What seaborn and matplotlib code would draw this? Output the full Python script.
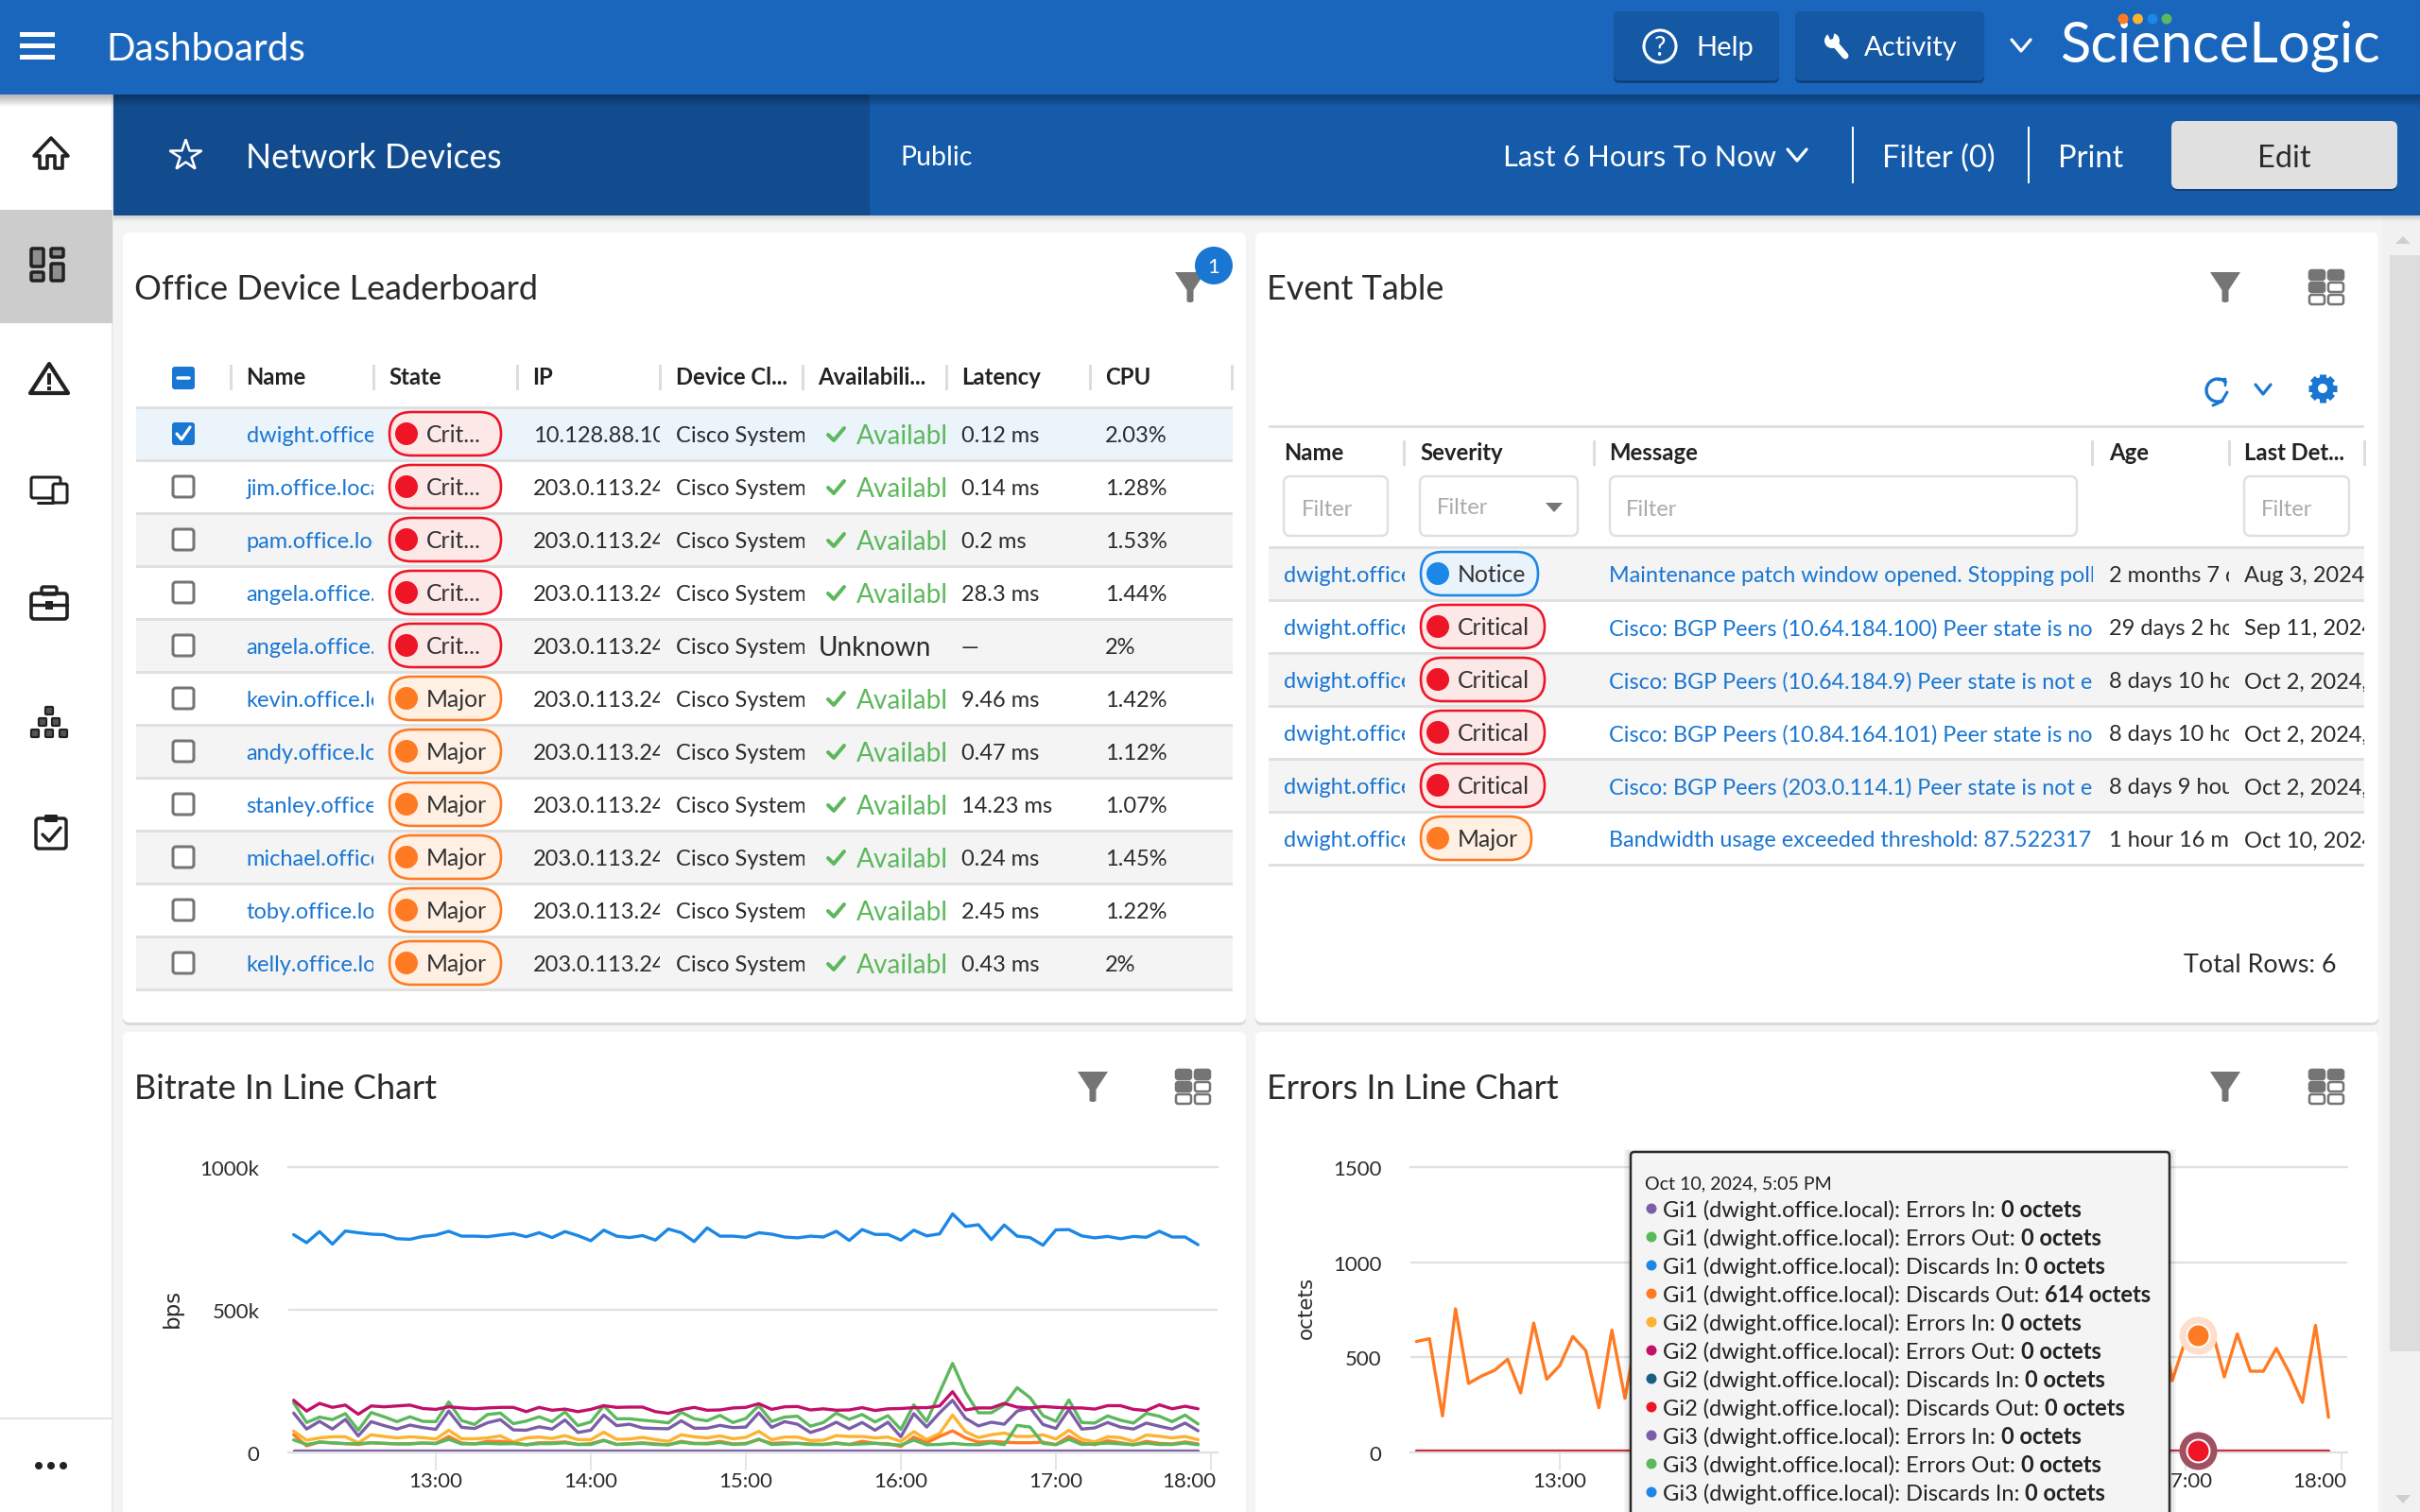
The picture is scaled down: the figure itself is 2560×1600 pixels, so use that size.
import numpy as np
import pandas as pd
import seaborn as sns
import matplotlib
matplotlib.use("Agg")
import matplotlib.pyplot as plt
from matplotlib.patches import FancyBboxPatch, Rectangle, Circle, Polygon, Arc
from matplotlib.transforms import Affine2D

# ---------- data ----------
TIMES = pd.date_range("2024-10-10 12:05", periods=71, freq="5min")
X_TICKS = ["13:00", "14:00", "15:00", "16:00", "17:00", "18:00"]

bit_blue = [763,735,774,730,776,770,765,763,749,747,757,762,775,758,758,756,762,767,756,770,753,774,760,742,779,758,753,760,744,783,770,739,787,758,758,
            754,770,765,755,752,758,755,775,743,781,764,764,744,779,759,766,836,792,798,746,797,758,753,726,780,781,759,752,757,749,757,754,775,755,755,728]
bit_magenta = [183,145,172,158,166,134,163,160,163,166,154,151,160,156,153,156,158,158,143,158,148,152,143,151,164,158,159,159,143,137,150,158,148,149,156,
               158,171,151,160,161,149,153,148,149,157,147,153,154,157,157,163,213,149,156,156,172,159,156,161,158,156,156,152,164,164,151,147,167,153,162,153]
bit_green = [174,105,124,115,136,78,140,125,108,125,109,108,177,112,98,133,138,101,110,125,108,142,94,107,164,118,118,113,109,104,141,118,111,130,105,
             119,164,109,124,127,92,105,138,116,133,107,129,81,167,109,211,312,211,139,139,167,227,192,129,109,184,105,103,128,113,103,137,127,108,131,100]
bit_purple = [138,82,109,82,116,58,108,94,82,96,87,81,145,88,84,104,115,79,78,90,82,114,70,78,131,94,99,86,84,83,111,85,85,95,87,
              89,139,88,108,99,70,84,106,83,105,78,106,55,136,89,139,183,120,93,106,99,145,156,98,84,150,82,86,105,89,82,103,92,82,103,76]
bit_amber = [75,43,51,55,55,34,62,56,51,55,52,47,78,48,48,51,58,37,51,54,49,59,45,45,71,46,47,53,45,39,62,55,51,58,48,
             53,74,45,54,54,42,43,59,56,56,51,54,39,73,45,67,131,73,52,62,68,56,56,62,47,78,47,37,55,52,39,61,57,51,56,45]
bit_orange = [62,23,37,33,31,28,34,32,30,31,33,32,56,33,30,39,39,34,27,34,34,37,28,31,43,28,31,34,30,27,39,32,32,39,30,
              32,45,32,34,32,30,28,34,28,39,32,31,21,54,34,56,76,51,36,39,36,34,34,36,28,56,34,27,41,34,27,39,32,30,37,30]
bit_green_low = [44,28,36,34,31,31,34,32,30,30,33,31,46,30,30,32,30,31,27,31,31,34,28,28,42,28,30,32,28,27,36,31,30,35,28,
                 30,47,28,30,32,28,28,32,28,30,32,28,26,43,27,28,32,28,27,34,27,95,89,32,27,46,28,30,33,30,27,33,28,28,33,27]
bit_flat = [6] * 71

err_orange_first = [583,598,192,755,363,402,432,490,313,680,385,457,610,535,235,643,285,657]
err_orange_last = [800,377,585,614,660,397,623,427,427,547,418,263,668,185]
err_red = [10] * 71
HOVER_ORANGE = 614
HOVER_RED = 10

LEAD_NAMES = ["dwight.office","jim.office.loca","pam.office.loc","angela.office.","angela.office.",
              "kevin.office.lo","andy.office.lo","stanley.office","michael.office","toby.office.lo","kelly.office.lo"]
LEAD_STATE = ["Crit..."]*5 + ["Major"]*6
LEAD_IP = ["10.128.88.100"] + ["203.0.113.24"]*10
LEAD_DEVICE = ["Cisco Systems"]*11
LEAD_LAT = ["0.12 ms","0.14 ms","0.2 ms","28.3 ms","—","9.46 ms","0.47 ms","14.23 ms","0.24 ms","2.45 ms","0.43 ms"]
LEAD_CPU = ["2.03%","1.28%","1.53%","1.44%","2%","1.42%","1.12%","1.07%","1.45%","1.22%","2%"]
LEAD_HEAD = ["Name","State","IP","Device Cl...","Availabili...","Latency","CPU"]

EV_SEV = ["Notice","Critical","Critical","Critical","Critical","Major"]
EV_MSG = ["Maintenance patch window opened. Stopping poll",
          "Cisco: BGP Peers (10.64.184.100) Peer state is no",
          "Cisco: BGP Peers (10.64.184.9) Peer state is not e",
          "Cisco: BGP Peers (10.84.164.101) Peer state is no",
          "Cisco: BGP Peers (203.0.114.1) Peer state is not e",
          "Bandwidth usage exceeded threshold: 87.522317"]
EV_AGE = ["2 months 7 d","29 days 2 ho","8 days 10 ho","8 days 10 ho","8 days 9 hou","1 hour 16 mi"]
EV_LAST = ["Aug 3, 2024,","Sep 11, 2024,","Oct 2, 2024,","Oct 2, 2024,","Oct 2, 2024,","Oct 10, 2024,"]
EV_HEAD = ["Name","Severity","Message","Age","Last Det..."]

TIP_LABELS = ["Gi1 (dwight.office.local): Errors In: ","Gi1 (dwight.office.local): Errors Out: ",
              "Gi1 (dwight.office.local): Discards In: ","Gi1 (dwight.office.local): Discards Out: ",
              "Gi2 (dwight.office.local): Errors In: ","Gi2 (dwight.office.local): Errors Out: ",
              "Gi2 (dwight.office.local): Discards In: ","Gi2 (dwight.office.local): Discards Out: ",
              "Gi3 (dwight.office.local): Errors In: ","Gi3 (dwight.office.local): Errors Out: ",
              "Gi3 (dwight.office.local): Discards In: "]
TIP_VALUES = ["0 octets","0 octets","0 octets","614 octets","0 octets","0 octets","0 octets","0 octets","0 octets","0 octets","0 octets"]

# ---------- colours ----------
PURPLE, GREEN, BLUE, ORANGE, AMBER, MAGENTA, NAVY, RED = ("#7B5EA7","#5CB85C","#1B87E6","#FF7B23","#FDB32F","#C2116B","#1B5E85","#EE1526")
TIP_COLORS = [PURPLE,GREEN,BLUE,ORANGE,AMBER,MAGENTA,NAVY,RED,PURPLE,GREEN,BLUE]
LINK = "#1976D2"; INK = "#2B2B2B"; RULE = "#E0E0E0"; ICON = "#757575"
CHIP = {"Crit...":(RED,"#FDE8E8"),"Critical":(RED,"#FDE8E8"),"Major":(ORANGE,"#FFF0E3"),"Notice":(BLUE,"#E8F3FC")}
BODY = 17

sns.set_theme(style="white")
plt.rcParams["font.family"] = ["Lato", "DejaVu Sans"]

fig = plt.figure(figsize=(25.6, 16), dpi=100, facecolor="#F4F4F4")

def px_axes(zorder, rect=(0, 0, 2560, 1600)):
    x0, y0, x1, y1 = rect
    a = fig.add_axes([x0/2560, 1-y1/1600, (x1-x0)/2560, (y1-y0)/1600], zorder=zorder)
    a.patch.set_alpha(0)
    return a

ax = px_axes(0)
ax.set_xlim(0, 2560); ax.set_ylim(1600, 0); ax.axis("off")
over = px_axes(5)
over.set_xlim(0, 2560); over.set_ylim(1600, 0); over.axis("off")

def box(x0, y0, x1, y1, fc="none", ec="none", lw=0, r=0, a=None, z=1, alpha=None):
    a = a or ax
    if r:
        p = FancyBboxPatch((x0, y0), x1-x0, y1-y0, boxstyle=f"round,pad=0,rounding_size={r}",
                           fc=fc, ec=ec, lw=lw*0.72, zorder=z, alpha=alpha)
    else:
        p = Rectangle((x0, y0), x1-x0, y1-y0, fc=fc, ec=ec, lw=lw*0.72, zorder=z, alpha=alpha)
    a.add_patch(p)
    return p

def txt(x, y, s, size=BODY, color=INK, weight="normal", ha="left", clip=None, a=None, z=6):
    a = a or ax
    base = y + size*100/72*0.36
    t = a.text(x, base, s, fontsize=size, color=color, fontweight=weight, ha=ha, va="baseline", zorder=z)
    if clip:
        t.set_clip_path(Rectangle((clip[0], 0), clip[1]-clip[0], 1600, transform=a.transData))
        t.set_clip_on(True)
    return t

def line(xs, ys, color, lw=3, a=None, z=4, cap="round"):
    (a or ax).plot(xs, ys, color=color, lw=lw*0.72, solid_capstyle=cap, solid_joinstyle="round", zorder=z)

def circ(x, y, r, fc, ec="none", lw=0, a=None, z=5):
    (a or ax).add_patch(Circle((x, y), r, fc=fc, ec=ec, lw=lw*0.72, zorder=z))

def poly(pts, fc="none", ec="none", lw=0, a=None, z=5):
    (a or ax).add_patch(Polygon(pts, closed=True, fc=fc, ec=ec, lw=lw*0.72, zorder=z, joinstyle="round"))

def chip(x0, x1, cy, label):
    ec, fc = CHIP[label]
    box(x0, cy-23, x1, cy+23, fc=fc, ec=ec, lw=2.6, r=23, z=3)
    circ(x0+18, cy, 12, ec)
    txt(x0+39, cy, label, size=17.8, color="#333333")

def funnel(x, y):
    poly([(x-16,y-16),(x+16,y-16),(x+3.5,y+3),(x+3.5,y+15),(x+1,y+16),(x-1,y+16),(x-3.5,y+15),(x-3.5,y+3)], fc=ICON)

def grid_icon(x, y):
    for i, dy in enumerate((-13, 0, 13)):
        for j, dx in enumerate((-10, 10)):
            solid = (i == 0) or (i == 1 and j == 0)
            box(x+dx-8, y+dy-5, x+dx+8, y+dy+5, fc=ICON if solid else "white", ec=ICON, lw=2.5, r=2.5, z=5)

def chevron(x, y, color, w=9, h=9, lw=3.2):
    line([x-w, x, x+w], [y-h/2, y+h/2+2, y-h/2], color, lw=lw)

# ---------- page chrome ----------
box(0, 228, 2560, 1600, fc="#F4F4F4", z=0)
box(0, 100, 120, 1600, fc="white", z=0.5)
box(118, 100, 120, 1600, fc="#EAEAEA", z=0.6)
box(0, 222, 119, 342, fc="#CCCCCC", z=0.7)
box(0, 1500, 119, 1502, fc="#E3E3E3", z=0.7)
box(0, 0, 2560, 100, fc="#1A66BC", z=2)
box(120, 100, 2560, 228, fc="#155BA9", z=2)
box(120, 100, 920, 228, fc="#124C8E", z=2.1)
for k in range(6):
    box(0, 100, 2560, 100+(6-k)*2, fc="black", alpha=0.05, z=2.2)
    box(120, 228, 2560, 228+(6-k), fc="black", alpha=0.025, z=2.2)

for y in (36, 48, 60):
    box(21, y-2.5, 58, y+2.5, fc="white", z=3)
txt(112, 49, "Dashboards", size=29, color="white")
ax.plot([196], [164], marker="*", ms=25, mfc="none", mec="white", mew=1.8, zorder=5)
txt(260, 165, "Network Devices", size=25.6, color="white")
txt(952, 165, "Public", size=20.5, color="white")

box(1707, 12, 1882, 85, fc="#1558A3", r=6, z=3)
box(1899, 12, 2099, 85, fc="#1558A3", r=6, z=3)
box(1707, 14, 1882, 88, fc="#0F437F", r=6, z=2.8)
box(1899, 14, 2099, 88, fc="#0F437F", r=6, z=2.8)
ax.add_patch(Circle((1756, 49), 17, fc="none", ec="white", lw=2.2, zorder=5))
txt(1756, 49, "?", size=20, color="white", ha="center")
txt(1794, 49, "Help", size=21, color="white")
line([1940, 1952], [45, 59], "white", lw=7)
circ(1938, 43, 8, "white")
poly([(1932,33),(1941,33),(1939,41),(1936,42)], fc="#1558A3", z=6)
txt(1972, 49, "Activity", size=21, color="white")
chevron(2138, 47, "white", w=10, h=10)

txt(2179, 43.5, "ScienceLogic", size=43, color="white")
for dx, c in zip((2246, 2261.5, 2277, 2292), (ORANGE, AMBER, BLUE, GREEN)):
    circ(dx, 20, 5.5, c, z=7)

txt(1590, 165, "Last 6 Hours To Now", size=22.2, color="white")
chevron(1901, 163, "white", w=10, h=10)
box(1958.5, 134, 1960.5, 194, fc="white", z=4)
txt(1991, 165, "Filter (0)", size=23.5, color="white")
box(2144.5, 134, 2146.5, 194, fc="white", z=4)
txt(2177, 165, "Print", size=23.5, color="white")
box(2297, 130, 2536, 202, fc="#0F437F", r=7, z=2.8)
box(2297, 128, 2536, 200, fc="#E0E0E0", r=7, z=3)
txt(2416, 165, "Edit", size=23.5, color=INK, ha="center")

# sidebar icons
poly([(54,146),(72,165),(66,165),(66,178),(58,178),(58,165),(50,165),(50,178),(42,178),(42,165),(36,165)], ec="#222222", lw=3.6)
for (x0,y0,x1,y1) in [(33,263,46,282),(54,263,67,272),(33,288,46,297),(54,279,67,297)]:
    box(x0,y0,x1,y1, fc="#8F8F8F", ec="#222222", lw=3.5, r=1.5, z=3)
poly([(52,385),(72,416),(32,416)], ec="#222222", lw=4.2)
box(50,395,54,407, fc="#222222", z=5); box(50,409,54,413, fc="#222222", z=5)
box(33,505,64,527, ec="#222222", lw=3, r=2, z=3)
box(56,512,71,532, fc="white", ec="#222222", lw=3, r=2, z=4)
line([40,56],[532,532],"#222222",lw=3)
box(33,628,71,655, ec="#222222", lw=3.6, r=3, z=3)
box(44,621,60,629, ec="#222222", lw=3.4, r=2, z=3)
line([33,71],[640,640],"#222222",lw=3.4); box(48,636,56,645, fc="#222222", z=5)
for (cx, cy) in [(52,752),(45,764),(59,764),(37,776),(52,776),(67,776)]:
    box(cx-4,cy-4,cx+4,cy+4, fc="#555555", ec="#222222", lw=2.2, z=5, r=1)
box(38,866,70,898, ec="#222222", lw=3.4, r=3, z=3)
box(47,862,61,870, fc="#222222", r=1.5, z=4)
line([45,52,64],[883,890,876],"#222222",lw=3.4)
for cx in (41,54,67):
    circ(cx,1551,4,"#222222")

# scrollbar
box(2521, 228, 2560, 1600, fc="#F1F1F1", z=0.5)
box(2528, 270, 2560, 1430, fc="#DDDDDD", z=0.6)
poly([(2542,250),(2550,258),(2534,258)], fc="#CFCFCF")
poly([(2542,1591),(2550,1582),(2534,1582)], fc="#CFCFCF")

# panels
for (x0, y0, x1, y1) in [(130,246,1318,1082),(1328,246,2516,1082),(130,1092,1318,1640),(1328,1092,2516,1640)]:
    box(x0, y0+3, x1, y1+3, fc="#DADADA", r=7, z=0.8)
    box(x0, y0, x1, y1, fc="white", r=7, z=1)

txt(142, 304, "Office Device Leaderboard", size=26)
txt(1340, 304, "Event Table", size=26)
txt(142, 1150, "Bitrate In Line Chart", size=26)
txt(1340, 1150, "Errors In Line Chart", size=26)

funnel(1259, 304); circ(1284, 281, 20, LINK); txt(1284, 281, "1", size=16, color="white", ha="center", z=7)
funnel(2354, 304); grid_icon(2461, 304)
funnel(1156, 1150); grid_icon(1262, 1150)
funnel(2354, 1150); grid_icon(2461, 1150)

# ---------- leaderboard table ----------
lead_x = [260.5, 411, 563.6, 715, 865.6, 1017, 1169]
for x, h in zip(lead_x, LEAD_HEAD):
    txt(x, 398, h, weight="bold", size=17.2, color="#222222")
for x in (244, 395, 547, 698, 849, 1001, 1153, 1303):
    box(x-1.5, 386, x+1.5, 413, fc="#DDDDDD", z=3)
box(182, 388, 206, 412, fc=LINK, r=3, z=3)
line([188, 200], [400, 400], "white", lw=3.5)
box(144, 430, 1304, 432.5, fc=RULE, z=2)
for i in range(11):
    y0 = 431 + 56*i; cy = y0 + 28
    if i == 0:
        box(144, y0, 1304, y0+56, fc="#EBF3FB", z=1.5)
    elif i % 2 == 0:
        box(144, y0, 1304, y0+56, fc="#F4F4F4", z=1.5)
    box(144, y0+55, 1304, y0+57.5, fc=RULE, z=2)
    if i == 0:
        box(182, cy-12, 206, cy+12, fc=LINK, r=3, z=3)
        line([187, 192, 201], [cy, cy+6, cy-7], "white", lw=3.2)
    else:
        box(183, cy-11, 205, cy+11, fc="white", ec=ICON, lw=3, r=3, z=3)
    txt(260.5, cy+1, LEAD_NAMES[i], color=LINK, clip=(250, 395))
    chip(412, 530, cy, LEAD_STATE[i])
    txt(563.6, cy+1, LEAD_IP[i], clip=(555, 698))
    txt(715, cy+1, LEAD_DEVICE[i], clip=(705, 851))
    if i == 4:
        txt(866, cy+1, "Unknown", size=20.2)
    else:
        line([876, 882, 893], [cy+1, cy+7, cy-6], GREEN, lw=4)
        txt(906, cy+1, "Available", size=20.2, color=GREEN, clip=(900, 1002))
    txt(1017, cy+1, LEAD_LAT[i])
    txt(1169, cy+1, LEAD_CPU[i])

# ---------- event table ----------
box(1342, 450, 2501, 452.5, fc=RULE, z=2)
ax.add_patch(Arc((2346, 413), 24, 24, angle=0, theta1=60, theta2=320, color=LINK, lw=2.4, zorder=5))
line([2341,2350,2356],[429,425,415],LINK,lw=3)
line([2347,2354,2354],[402,401,408],LINK,lw=2.6)
chevron(2394, 411, LINK, w=8, h=8)
for k in range(8):
    ang = k*np.pi/4
    line([2457, 2457+15*np.cos(ang)], [411, 411+15*np.sin(ang)], LINK, lw=7, cap="butt")
circ(2457, 411, 12, LINK); circ(2457, 411, 5, "white", z=6)

ev_x = [1358, 1502, 1702, 2231, 2374]
for x, h in zip(ev_x, EV_HEAD):
    txt(x, 478, h, weight="bold", size=17.2, color="#222222")
for x in (1485, 1686, 2213, 2358, 2501):
    box(x-1.5, 466, x+1.5, 493, fc="#DDDDDD", z=3)
for (x0, x1, tx) in [(1358,1468,1377),(1502,1669,1520),(1703,2197,1720),(2374,2485,2392)]:
    box(x0, 504, x1, 567, fc="white", ec=RULE, lw=2.5, r=7, z=3)
    txt(tx, 537 if tx != 1520 else 535, "Filter", color="#ABABAB")
poly([(1635,532),(1653,532),(1644,542)], fc=ICON)
box(1342, 578, 2501, 580.5, fc=RULE, z=2)
chip_right = {"Notice":1627, "Critical":1634, "Major":1620}
for i in range(6):
    y0 = 579 + 56*i; cy = y0 + 28
    if i % 2 == 0:
        box(1342, y0, 2501, y0+56, fc="#F4F4F4", z=1.5)
    box(1342, y0+55, 2501, y0+57.5, fc=RULE, z=2)
    txt(1358, cy+1, "dwight.office", color=LINK, clip=(1350, 1486))
    chip(1503, chip_right[EV_SEV[i]], cy, EV_SEV[i])
    txt(1702, cy+1, EV_MSG[i], size=16.8, color=LINK, clip=(1695, 2214))
    txt(2231, cy+1, EV_AGE[i], clip=(2225, 2358))
    txt(2374, cy+1, EV_LAST[i], clip=(2366, 2501))
txt(2471, 1019, "Total Rows: 6", size=19.4, ha="right")

# ---------- charts (seaborn) ----------
def long_frame(columns, times=TIMES):
    rows = [pd.DataFrame({"time": times if len(v) == len(times) else v[0], "value": v if len(v) == len(times) else v[1], "series": k})
            for k, v in columns.items()]
    return pd.concat(rows, ignore_index=True)

def style_chart(a, ylim, yticks, ylabels, px_hour, tick13_x, left, right, ylabel, ylabel_font, ylabel_x, ylabel_size):
    t13 = pd.Timestamp("2024-10-10 13:00"); t18 = pd.Timestamp("2024-10-10 18:00")
    a.set_xlim(t13 - pd.Timedelta(hours=(tick13_x-left)/px_hour),
               t18 + pd.Timedelta(hours=(right-(tick13_x+5*px_hour))/px_hour))
    a.set_ylim(*ylim)
    a.set_yticks(yticks, ylabels)
    a.set_xticks(pd.date_range(t13, t18, freq="1h"), X_TICKS)
    a.set_xlabel(""); a.set_ylabel("")
    a.grid(axis="y", color=RULE, lw=1.6); a.grid(axis="x", visible=False)
    a.set_axisbelow(True)
    for s in ("left", "right"):
        a.spines[s].set_visible(False)
    for s in ("top", "bottom"):
        a.spines[s].set_visible(True); a.spines[s].set_color(RULE); a.spines[s].set_linewidth(1.6)
    a.tick_params(axis="x", length=14, width=1.2, color=RULE, labelsize=16, labelcolor=INK, pad=1, bottom=True)
    a.tick_params(axis="y", length=0, labelsize=16, labelcolor=INK, pad=22)
    last = a.get_xticklabels()[-1]
    last.set_ha("right")
    last.set_transform(last.get_transform() + Affine2D().translate(5, 0))
    for lab in a.get_yticklabels():
        lab.set_transform(lab.get_transform() + Affine2D().translate(0, -1))
    ax.text(ylabel_x, 1384, ylabel, rotation=90, ha="center", va="center", fontsize=ylabel_size,
            color=INK, family=ylabel_font, zorder=6)

ax_bit = px_axes(2, (305, 1235, 1288, 1537))
bit_cols = {"Gi1 Discards In": bit_blue, "Gi1 Errors Out": bit_green, "Gi1 Errors In": bit_purple,
            "Gi2 Errors In": bit_amber, "Gi1 Discards Out": bit_orange, "Gi3 Errors Out": bit_green_low,
            "Gi2 Errors Out": bit_magenta, "Gi3 Errors In": bit_flat}
bit_pal = {"Gi1 Discards In": BLUE, "Gi1 Errors Out": GREEN, "Gi1 Errors In": PURPLE, "Gi2 Errors In": AMBER,
           "Gi1 Discards Out": ORANGE, "Gi3 Errors Out": GREEN, "Gi2 Errors Out": MAGENTA, "Gi3 Errors In": PURPLE}
sns.lineplot(data=long_frame(bit_cols), x="time", y="value", hue="series", hue_order=list(bit_cols), palette=bit_pal,
             estimator=None, sort=False, legend=False, linewidth=2.4, ax=ax_bit)
style_chart(ax_bit, (0, 1000), [0, 500, 1000], ["0", "500k", "1000k"], 164, 461, 305, 1288, "bps", "DejaVu Sans", 182, 16.5)

ax_err = px_axes(2, (1492, 1235, 2483, 1537))
err_times = TIMES[:18].append(TIMES[57:])
err_cols = {"Gi1 Discards Out": (err_times, err_orange_first + err_orange_last), "Gi2 Discards Out": err_red}
sns.lineplot(data=long_frame(err_cols), x="time", y="value", hue="series", hue_order=list(err_cols),
             palette={"Gi1 Discards Out": ORANGE, "Gi2 Discards Out": "#C8283C"},
             estimator=None, sort=False, legend=False, linewidth=2.4, ax=ax_err)
style_chart(ax_err, (0, 1500), [0, 500, 1000, 1500], ["0", "500", "1000", "1500"], 165.4, 1650, 1492, 2483, "octets", "DejaVu Sans", 1382, 15.5)
hover_t = [TIMES[60]]
for val, halo, core in [(HOVER_ORANGE, "#FFDFCB", ORANGE), (HOVER_RED, "#A05060", RED)]:
    ax_err.scatter(hover_t, [val], s=(40*0.72)**2, color=halo, linewidths=0, zorder=6, clip_on=False)
    ax_err.scatter(hover_t, [val], s=(26*0.72)**2, color="white", linewidths=0, zorder=7, clip_on=False)
    ax_err.scatter(hover_t, [val], s=(22*0.72)**2, color=core, linewidths=0, zorder=8, clip_on=False)

# ---------- tooltip ----------
for k in range(4):
    box(1724-k*2, 1219-k, 2296+k*2, 1640, fc="black", alpha=0.04, a=over, z=1)
box(1725, 1219, 2295, 1640, fc="#F4F4F4", ec="#2A2A2A", lw=2.5, r=4, a=over, z=2)
txt(1740, 1251, "Oct 10, 2024, 5:05 PM", size=14.1, a=over, color="#222222")
rend = fig.canvas.get_renderer()
for i, (lab, val, c) in enumerate(zip(TIP_LABELS, TIP_VALUES, TIP_COLORS)):
    cy = 1279 + 30*i
    circ(1747, cy, 5.5, c, a=over, z=3)
    t = txt(1759, cy, lab, size=17, a=over, color="#222222")
    bb = t.get_window_extent(renderer=rend)
    txt(bb.x1, cy, val, size=17, a=over, color="#222222", weight="bold")

fig.savefig("out.png", dpi=100, facecolor=fig.get_facecolor())
